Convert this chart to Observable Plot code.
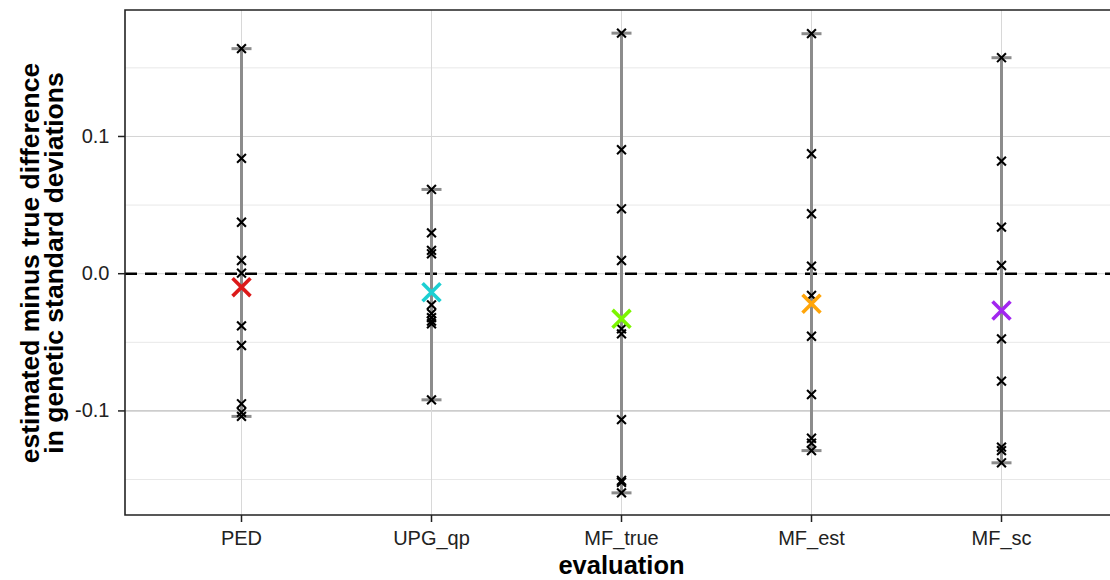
<!DOCTYPE html>
<html><head><meta charset="utf-8">
<script src="https://cdn.jsdelivr.net/npm/d3@7"></script>
<script src="https://cdn.jsdelivr.net/npm/@observablehq/plot@0.6"></script>
<style>
html,body{margin:0;padding:0;background:#fff;overflow:hidden;}
#chart svg{display:block;}
</style>
</head><body><div id="chart"></div>
<script>
const categories = ["PED", "UPG_qp", "MF_true", "MF_est", "MF_sc"];
const PED = [0.164, 0.084, 0.0375, 0.0096, 0.0004, -0.038, -0.0523, -0.0948, -0.101, -0.104];
const UPG_qp = [0.0614, 0.0298, 0.017, 0.0145, -0.0227, -0.029, -0.032, -0.0345, -0.0365, -0.0919];
const MF_true = [0.1753, 0.0903, 0.0473, 0.0096, -0.0402, -0.0438, -0.1063, -0.1507, -0.152, -0.1597];
const MF_est = [0.1749, 0.0874, 0.0437, 0.0055, -0.0159, -0.0456, -0.088, -0.1199, -0.1235, -0.1289];
const MF_sc = [0.1574, 0.082, 0.0339, 0.006, -0.0475, -0.0783, -0.1264, -0.1289, -0.1378];
const means = [-0.0098, -0.0135, -0.0329, -0.0219, -0.0268];
const meanColors = ["#dc1a1a", "#1ccfd2", "#7cf500", "#ffa50a", "#a226ef"];
const yTicks = [-0.1, 0.0, 0.1];
const yMinorTicks = [-0.15, -0.05, 0.05, 0.15];
const yTitle = "estimated minus true difference\nin genetic standard deviations";
const xTitle = "evaluation";

const seriesValues = [PED, UPG_qp, MF_true, MF_est, MF_sc];
const points = categories.flatMap((c, i) => seriesValues[i].map(v => ({cat: c, v})));
const ranges = categories.map((c, i) => ({cat: c, lo: d3.min(seriesValues[i]), hi: d3.max(seriesValues[i])}));
const meanRows = categories.map((c, i) => ({cat: c, v: means[i], color: meanColors[i]}));
const caps = ranges.flatMap(r => [{cat: r.cat, v: r.lo}, {cat: r.cat, v: r.hi}]);

const hline = {draw(ctx, size) { const r = Math.sqrt(size / Math.PI); ctx.moveTo(-r, 0); ctx.lineTo(r, 0); }};
const yDomain = [-0.1762, 0.1918];
const font = "'Liberation Sans', Arial, Helvetica, sans-serif";

// left, bottom and top spines (the right side is outside the picture)
function spines(index, scales, values, dimensions) {
  const {marginLeft, marginTop, marginBottom, height, width} = dimensions;
  const p = d3.create("svg:path")
    .attr("fill", "none")
    .attr("stroke", "#222")
    .attr("stroke-width", 1.6)
    .attr("d", `M${width + 5},${marginTop}H${marginLeft}V${height - marginBottom}H${width + 5}`);
  return p.node();
}

const chart = Plot.plot({
  width: 1110,
  height: 580,
  marginLeft: 125,
  marginRight: 0,
  marginTop: 10,
  marginBottom: 65,
  style: {fontFamily: font, background: "#fff", color: "#222"},
  x: {type: "point", domain: categories, range: [125, 1116], padding: 0.6},
  y: {domain: yDomain},
  marks: [
    Plot.ruleY(yMinorTicks, {stroke: "#e8e8e8", strokeWidth: 1}),
    Plot.ruleY(yTicks.filter(d => d !== -0.1), {stroke: "#d4d4d4", strokeWidth: 1}),
    Plot.ruleY(yTicks.filter(d => d === -0.1), {stroke: "#a8a8a8", strokeWidth: 1}),
    Plot.ruleX(categories, {stroke: "#d8d8d8", strokeWidth: 1}),
    Plot.ruleY([0], {stroke: "#000", strokeWidth: 2.6, strokeDasharray: "12,8"}),
    Plot.ruleX(ranges, {x: "cat", y1: "lo", y2: "hi", stroke: "#8c8c8c", strokeWidth: 3}),
    Plot.dot(caps, {x: "cat", y: "v", symbol: hline, r: 10, stroke: "#8c8c8c", strokeWidth: 3}),
    Plot.dot(points, {x: "cat", y: "v", symbol: "times", r: 4.1, stroke: "#000", strokeWidth: 2.1}),
    Plot.dot(meanRows, {x: "cat", y: "v", symbol: "times", r: 8.2, stroke: d => d.color, strokeWidth: 3.6}),
    spines,
    Plot.axisY({ticks: yTicks, tickFormat: d => d.toFixed(1), tickSize: 7, tickPadding: 9, fontSize: 20, label: null, stroke: "#222", strokeWidth: 1.5}),
    Plot.axisX({tickSize: 7, tickPadding: 8, fontSize: 20, label: null, stroke: "#222", strokeWidth: 1.5}),
    Plot.text([yTitle], {frameAnchor: "left", textAnchor: "middle", lineAnchor: "middle", rotate: -90, dx: -82, fontSize: 26.5, fontWeight: "bold", lineHeight: 0.9, fill: "#000"}),
    Plot.text([xTitle], {frameAnchor: "bottom", lineAnchor: "middle", dx: 3.5, dy: 50, fontSize: 25.5, fontWeight: "bold", fill: "#000"})
  ]
});
document.getElementById("chart").appendChild(chart);
</script>
</body></html>
